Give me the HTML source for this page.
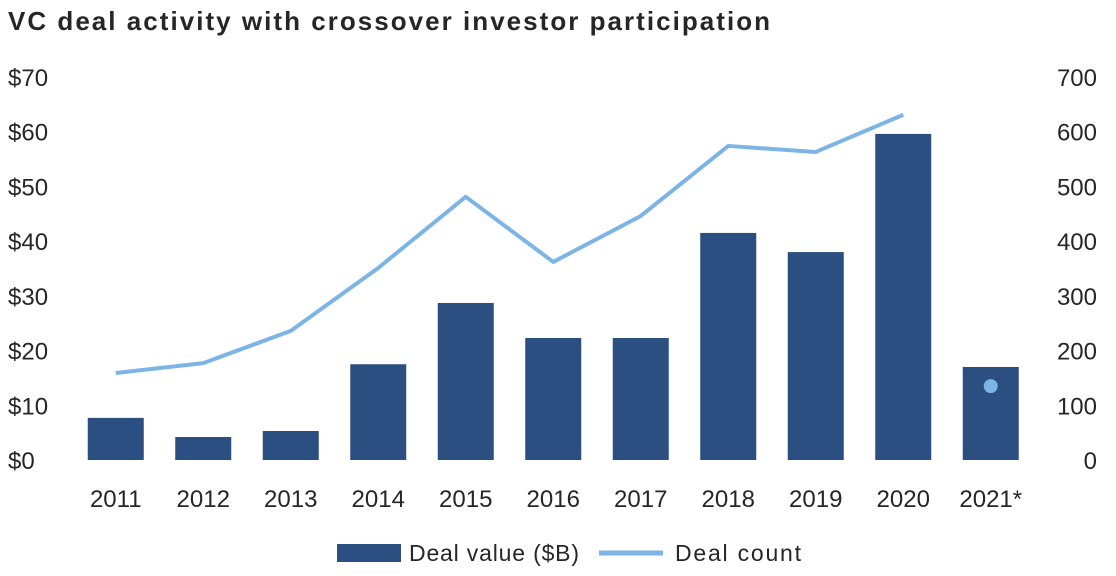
<!DOCTYPE html>
<html><head><meta charset="utf-8"><style>
body{margin:0;background:#fff;}
svg text{font-family:"Liberation Sans",sans-serif;fill:#262626;}
</style></head><body>
<svg width="1116" height="571" viewBox="0 0 1116 571" id="chart">
<text x="8" y="30" font-size="26" font-weight="bold" fill="#2b2b2b" textLength="762" lengthAdjust="spacing">VC deal activity with crossover investor participation</text>
<g id="axes"></g><g id="bars"></g><g id="line"></g>
<g>
<rect x="337" y="544" width="64" height="18" fill="#2a4f80"/>
<text x="409" y="561" font-size="23" textLength="170" lengthAdjust="spacing">Deal value ($B)</text>
<line x1="599" y1="553" x2="663" y2="553" stroke="#7db4e6" stroke-width="5"/>
<text x="675" y="561" font-size="23" textLength="126" lengthAdjust="spacing">Deal count</text>
</g>
</svg>
<script>
const categories=["2011","2012","2013","2014","2015","2016","2017","2018","2019","2020","2021*"];
const dealValue=[7.7,4.2,5.3,17.5,28.7,22.3,22.3,41.5,38,59.6,17];
const dealCount=[159,177,236,351,481,362,446,574,563,631,null];
const dealCount2021=[135];
const leftTicks=[0,10,20,30,40,50,60,70];
const rightTicks=[0,100,200,300,400,500,600,700];
const NS="http://www.w3.org/2000/svg";
const x0=72,bw=87.5,yb=460,yt=77;
const xc=i=>x0+bw*(i+0.5);
const yL=v=>yb-(v/70)*(yb-yt);
const yR=v=>yb-(v/700)*(yb-yt);
function mk(t,a,p){const e=document.createElementNS(NS,t);for(const k in a)e.setAttribute(k,a[k]);p.appendChild(e);return e;}
const ax=document.getElementById('axes');
leftTicks.forEach(v=>{const t=mk('text',{x:8,y:yL(v)+9,'font-size':24},ax);t.textContent='$'+v;

});
rightTicks.forEach(v=>{const t=mk('text',{x:1097,y:yR(v)+9,'font-size':24,'text-anchor':'end'},ax);t.textContent=v;

});
categories.forEach((c,i)=>{const t=mk('text',{x:xc(i),y:507,'font-size':24,'text-anchor':'middle'},ax);t.textContent=c;

});
const bg=document.getElementById('bars');
dealValue.forEach((v,i)=>{const r=mk('rect',{x:xc(i)-28,y:yL(v),width:56,height:yb-yL(v),fill:'#2a4f80'},bg);

});
const lg=document.getElementById('line');
const pts=dealCount.map((v,i)=>v==null?null:xc(i)+','+yR(v)).filter(p=>p).join(' ');
const pl=mk('polyline',{points:pts,fill:'none',stroke:'#7db4e6','stroke-width':4,'stroke-linejoin':'round'},lg);


const dt=mk('circle',{cx:xc(10),cy:yR(dealCount2021[0]),r:7,fill:'#7db4e6'},lg);


</script>
</body></html>
